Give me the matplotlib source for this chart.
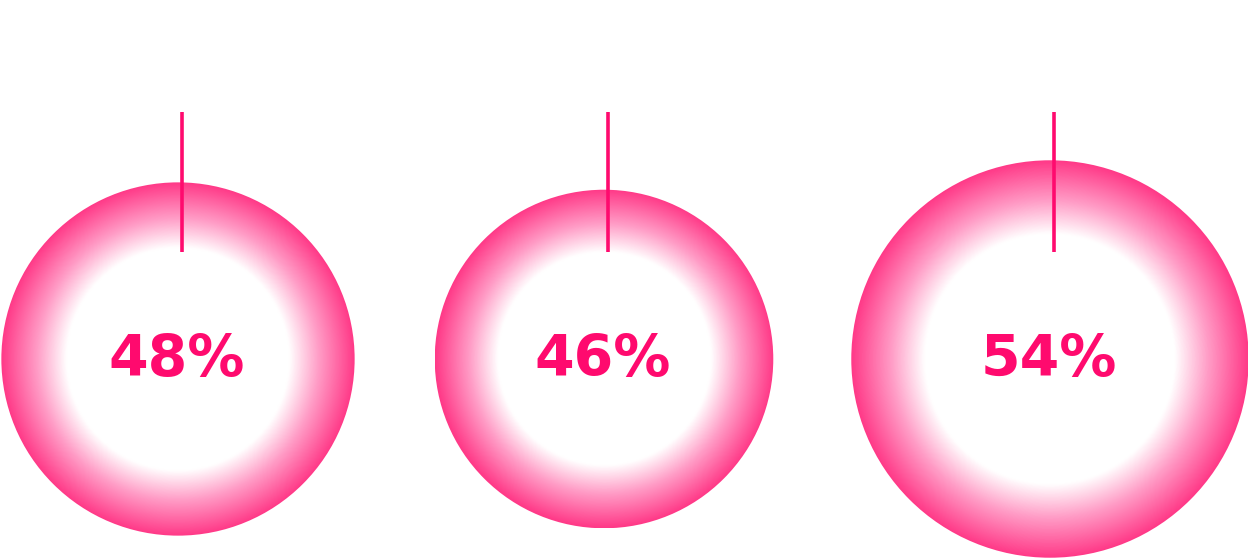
import numpy as np
import matplotlib
matplotlib.use("Agg")
import matplotlib.pyplot as plt
from matplotlib.patches import Circle
from matplotlib.colors import LinearSegmentedColormap

# data
labels = ["48%", "46%", "54%"]
values = [48, 46, 54]

# layout (pixels)
W, H = 1248, 558
centers_x = [178, 604, 1050]
center_y = 359
px_per_pct = 3.68
line_top, line_bot = 112, 252
line_dx = 4
text_base = 376

pink = "#ff0a6e"
cmap = LinearSegmentedColormap.from_list(
    "glow", [(0.0, "#ffffff"), (0.63, "#ffffff"), (0.8, "#ff9cc6"), (1.0, "#ff3a88")])

fig = plt.figure(figsize=(W / 100, H / 100), dpi=100)
ax = fig.add_axes([0, 0, 1, 1])
ax.set_xlim(0, W)
ax.set_ylim(H, 0)
ax.axis("off")

for cx, v, lab in zip(centers_x, values, labels):
    r = v * px_per_pct
    n = 400
    g = np.linspace(-1, 1, n)
    xx, yy = np.meshgrid(g, g)
    d = np.sqrt(xx ** 2 + yy ** 2)
    im = ax.imshow(d, cmap=cmap, vmin=0, vmax=1, extent=[cx - r, cx + r, center_y + r, center_y - r],
                   interpolation="bilinear", zorder=1)
    circ = Circle((cx, center_y), r, transform=ax.transData, facecolor="none", edgecolor="none")
    ax.add_patch(circ)
    im.set_clip_path(circ)
    ax.vlines(cx + line_dx, line_top, line_bot, color=pink, lw=2.6, zorder=3)
    ax.text(cx - 1, text_base, lab, ha="center", va="baseline", color=pink,
            fontsize=41, fontweight="bold", family="DejaVu Sans", zorder=4)

ax.set_xlim(0, W)
ax.set_ylim(H, 0)
fig.savefig("out.png", dpi=100)
